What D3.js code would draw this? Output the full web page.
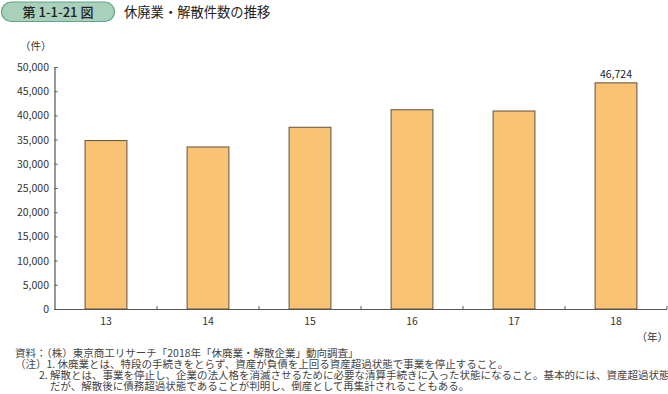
<!DOCTYPE html>
<html>
<head>
<meta charset="utf-8">
<script src="https://cdn.jsdelivr.net/npm/d3@7"></script>
<style>
  body { margin: 0; background: #fff; }
  text { font-family: "Noto Sans CJK JP", "Noto Sans", sans-serif; }
</style>
</head>
<body>
<script>
const years = ['13', '14', '15', '16', '17', '18'];
const counts = [34800, 33475, 37548, 41162, 40909, 46724];
const yTicks = [0, 5000, 10000, 15000, 20000, 25000, 30000, 35000, 40000, 45000, 50000];
const notes = [
  '資料：（株）東京商工リサーチ「2018年「休廃業・解散企業」動向調査」',
  '（注）1. 休廃業とは、特段の手続きをとらず、資産が負債を上回る資産超過状態で事業を停止すること。',
  '2. 解散とは、事業を停止し、企業の法人格を消滅させるために必要な清算手続きに入った状態になること。基本的には、資産超過状態',
  'だが、解散後に債務超過状態であることが判明し、倒産として再集計されることもある。'
];

const w = 668, h = 394;
const svg = d3.select('body').append('svg')
  .attr('width', w)
  .attr('height', h);

// title badge
svg.append('rect')
  .attr('x', 1.5).attr('y', 2)
  .attr('width', 113).attr('height', 19.5)
  .attr('rx', 9.75)
  .attr('fill', '#a9d0bb')
  .attr('stroke', '#5fa688')
  .attr('stroke-width', 1.2);
svg.append('text')
  .attr('x', 58).attr('y', 16.5)
  .attr('text-anchor', 'middle')
  .style('font-size', '13px').style('font-weight', '500')
  .attr('fill', '#222')
  .text('第 1-1-21 図');
svg.append('text')
  .attr('x', 124).attr('y', 16.5)
  .style('font-size', '13.3px')
  .attr('fill', '#222')
  .text('休廃業・解散件数の推移');

const x = d3.scaleBand()
  .domain(years)
  .range([55, 667])
  .paddingInner(0.59)
  .paddingOuter(0.295);

const y = d3.scaleLinear()
  .domain([0, 50000])
  .range([309, 67]);

// y axis
const yAxis = svg.append('g')
  .attr('transform', 'translate(54.5,0)')
  .call(d3.axisRight(y).tickValues(yTicks).tickSize(3).tickFormat(''));
yAxis.select('.domain').attr('stroke', '#555').attr('stroke-width', 1.2);
yAxis.selectAll('.tick line').attr('stroke', '#555');

svg.append('g').selectAll('text')
  .data(yTicks)
  .enter()
  .append('text')
  .attr('x', 49)
  .attr('y', d => y(d) + 4)
  .attr('text-anchor', 'end')
  .style('font-size', '10.5px')
  .attr('fill', '#333')
  .text(d => d3.format(',')(d));

svg.append('text')
  .attr('x', 20).attr('y', 50)
  .style('font-size', '10.5px')
  .attr('fill', '#333')
  .text('（件）');

// bars
svg.append('g').selectAll('rect')
  .data(counts)
  .enter()
  .append('rect')
  .attr('x', (d, i) => x(years[i]))
  .attr('y', d => y(d))
  .attr('width', x.bandwidth())
  .attr('height', d => y(0) - y(d))
  .attr('fill', '#f9c373')
  .attr('stroke', '#5e5042')
  .attr('stroke-width', 1);

// x axis
const step = x.step();
const bounds = years.map((d, i) => 55 + step * (i + 1));
svg.append('line')
  .attr('x1', 54).attr('x2', 667)
  .attr('y1', 309.5).attr('y2', 309.5)
  .attr('stroke', '#555').attr('stroke-width', 1.2);
svg.append('g').selectAll('line')
  .data(bounds)
  .enter()
  .append('line')
  .attr('x1', d => d).attr('x2', d => d)
  .attr('y1', 309).attr('y2', 306)
  .attr('stroke', '#555');

svg.append('g').selectAll('text')
  .data(years)
  .enter()
  .append('text')
  .attr('x', d => x(d) + x.bandwidth() / 2)
  .attr('y', 325)
  .attr('text-anchor', 'middle')
  .style('font-size', '10.5px')
  .attr('fill', '#333')
  .text(d => d);

svg.append('text')
  .attr('x', 668).attr('y', 341)
  .attr('text-anchor', 'end')
  .style('font-size', '10.5px')
  .attr('fill', '#333')
  .text('（年）');

// value label on last bar
const last = years.length - 1;
svg.append('text')
  .attr('x', x(years[last]) + x.bandwidth() / 2)
  .attr('y', y(counts[last]) - 5)
  .attr('text-anchor', 'middle')
  .style('font-size', '10.5px')
  .attr('fill', '#222')
  .text(d3.format(',')(counts[last]));

// notes
const noteX = [15, 15, 39, 50];
svg.append('g').selectAll('text')
  .data(notes)
  .enter()
  .append('text')
  .attr('x', (d, i) => noteX[i])
  .attr('y', (d, i) => 357 + i * 11)
  .style('font-size', '10.5px')
  .attr('fill', '#444')
  .text(d => d);
</script>
</body>
</html>
